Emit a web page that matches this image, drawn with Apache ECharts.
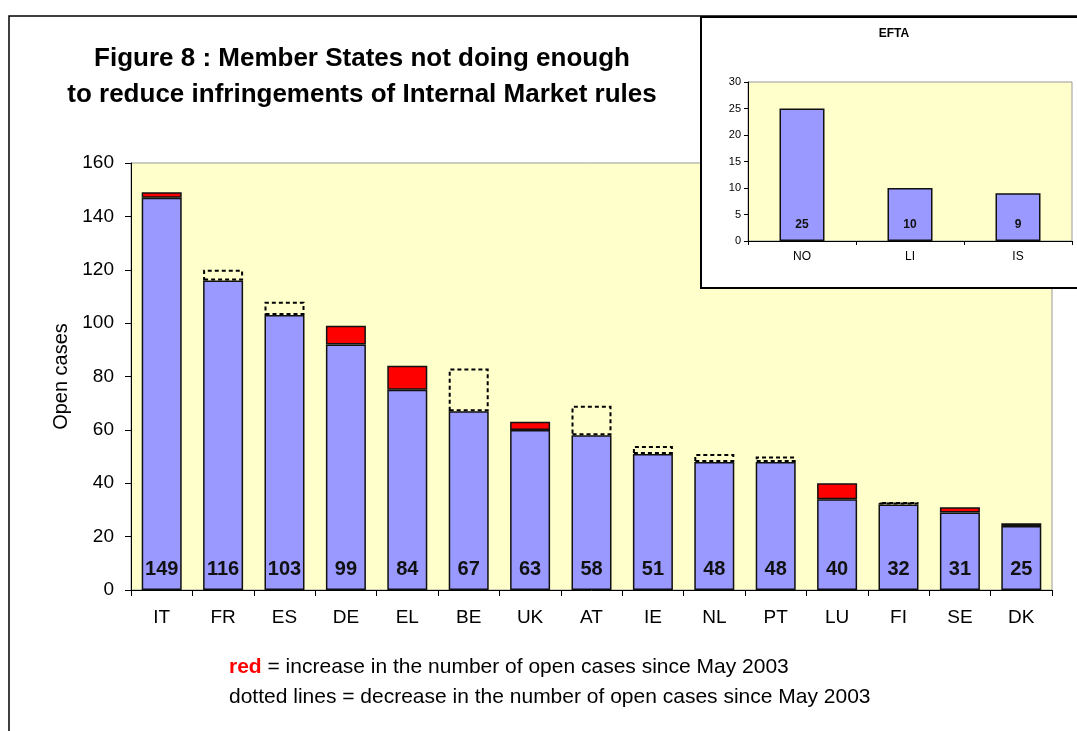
<!DOCTYPE html>
<html><head><meta charset="utf-8">
<script src="https://cdn.jsdelivr.net/npm/echarts@6/dist/echarts.min.js"></script>
<style>html,body{margin:0;padding:0;background:#fff}#c{width:1077px;height:731px}</style>
</head><body><div id="c"></div>
<script>
// Main chart data
const categories = ['IT','FR','ES','DE','EL','BE','UK','AT','IE','NL','PT','LU','FI','SE','DK'];
const openCases = [149,116,103,99,84,67,63,58,51,48,48,40,32,31,25];       // current open cases
const openCasesMay2003 = [147,120,108,92,75,83,60,69,54,51,50,34,33,29,24]; // May 2003
const yTicks = {min:0, max:160, interval:20};
// EFTA inset data
const eftaCategories = ['NO','LI','IS'];
const eftaValues = [25,10,9];

const base = openCases.map((v,i)=>Math.min(v, openCasesMay2003[i]));
const increase = openCases.map((v,i)=>v > openCasesMay2003[i] ? v - openCasesMay2003[i] : null);
const decrease = openCases.map((v,i)=>openCasesMay2003[i] > v ? openCasesMay2003[i] - v : null);

const FONT = 'Liberation Sans, Arial, sans-serif';
const chart = echarts.init(document.getElementById('c'), null, {renderer:'canvas'});
chart.setOption({
  animation:false,
  backgroundColor:'#fff',
  textStyle:{fontFamily:FONT},
  graphic:[
    {type:'rect', z:0, shape:{x:9,y:16,width:1200,height:800}, style:{fill:'none', stroke:'#000', lineWidth:1.5}, silent:true},
    {type:'text', z:5, style:{text:'Figure 8 : Member States not doing enough\nto reduce infringements of Internal Market rules', x:362, y:77, align:'center', verticalAlign:'middle', font:'bold 26px Liberation Sans', lineHeight:36, fill:'#000'}},
    {type:'rect', z:1, shape:{x:701,y:17,width:400,height:271}, style:{fill:'#fff', stroke:'#000', lineWidth:2}, silent:true},
    {type:'text', z:10, style:{text:'EFTA', x:894, y:34, align:'center', verticalAlign:'middle', font:'bold 12px Liberation Sans', fill:'#000'}},
    {type:'text', z:5, style:{x:229, y:667, verticalAlign:'middle', rich:{r:{fontFamily:FONT, fontWeight:'bold', fontSize:21, fill:'#ff0000'}, t:{fontFamily:FONT, fontSize:21, fill:'#000'}}, text:'{r|red}{t| = increase in the number of open cases since May 2003}'}},
    {type:'text', z:5, style:{x:229, y:697, verticalAlign:'middle', font:'21px Liberation Sans', fill:'#000', text:'dotted lines = decrease in the number of open cases since May 2003'}}
  ],
  grid:[
    {left:131, top:163, width:921, height:427, show:true, backgroundColor:'#FFFFCC', borderColor:'#999', borderWidth:1, z:0},
    {left:748, top:82, width:324, height:159, show:true, backgroundColor:'#FFFFCC', borderColor:'#999', borderWidth:1, z:3}
  ],
  xAxis:[
    {type:'category', gridIndex:0, data:categories, boundaryGap:true,
     axisLine:{lineStyle:{color:'#000', width:1}}, axisTick:{show:true, length:6, lineStyle:{color:'#000'}},
     axisLabel:{fontSize:19, color:'#000', margin:18, fontFamily:FONT}},
    {type:'category', gridIndex:1, data:eftaCategories, boundaryGap:true, z:4,
     axisLine:{lineStyle:{color:'#000'}}, axisTick:{show:true, length:4, lineStyle:{color:'#000'}},
     axisLabel:{fontSize:12, color:'#000', margin:10, fontFamily:FONT}}
  ],
  yAxis:[
    {type:'value', gridIndex:0, min:yTicks.min, max:yTicks.max, interval:yTicks.interval,
     name:'Open cases', nameLocation:'middle', nameGap:60, nameTextStyle:{fontSize:20, color:'#000', fontFamily:FONT},
     axisLine:{show:true, lineStyle:{color:'#000'}}, axisTick:{show:true, length:6, lineStyle:{color:'#000'}},
     splitLine:{show:false}, axisLabel:{fontSize:19, color:'#000', margin:17, fontFamily:FONT}},
    {type:'value', gridIndex:1, min:0, max:30, interval:5, z:4,
     axisLine:{show:true, lineStyle:{color:'#000'}}, axisTick:{show:true, length:4, lineStyle:{color:'#000'}},
     splitLine:{show:false}, axisLabel:{fontSize:11, color:'#000', margin:7, fontFamily:FONT}}
  ],
  series:[
    {type:'bar', name:'base', xAxisIndex:0, yAxisIndex:0, stack:'m', data:base, barWidth:40, z:2,
     itemStyle:{color:'#9999FF', borderColor:'#111', borderWidth:1.5},
     label:{show:true, position:'insideBottom', distance:11, fontSize:20, fontWeight:'bold', color:'#111', fontFamily:FONT,
       formatter:p=>String(openCases[p.dataIndex])}},
    {type:'bar', name:'increase', xAxisIndex:0, yAxisIndex:0, stack:'m', data:increase, barWidth:40, z:2,
     itemStyle:{color:'#FF0000', borderColor:'#111', borderWidth:1.5}},
    {type:'bar', name:'decrease', xAxisIndex:0, yAxisIndex:0, stack:'m', data:decrease, barWidth:40, z:2,
     itemStyle:{color:'rgba(0,0,0,0)', borderColor:'#000', borderWidth:2, borderType:[4,3]}},
    {type:'bar', name:'efta', xAxisIndex:1, yAxisIndex:1, data:eftaValues, barWidth:45, z:5,
     itemStyle:{color:'#9999FF', borderColor:'#111', borderWidth:1.5},
     label:{show:true, position:'insideBottom', distance:10, fontSize:12, fontWeight:'bold', color:'#111', fontFamily:FONT}}
  ]
});
</script></body></html>
